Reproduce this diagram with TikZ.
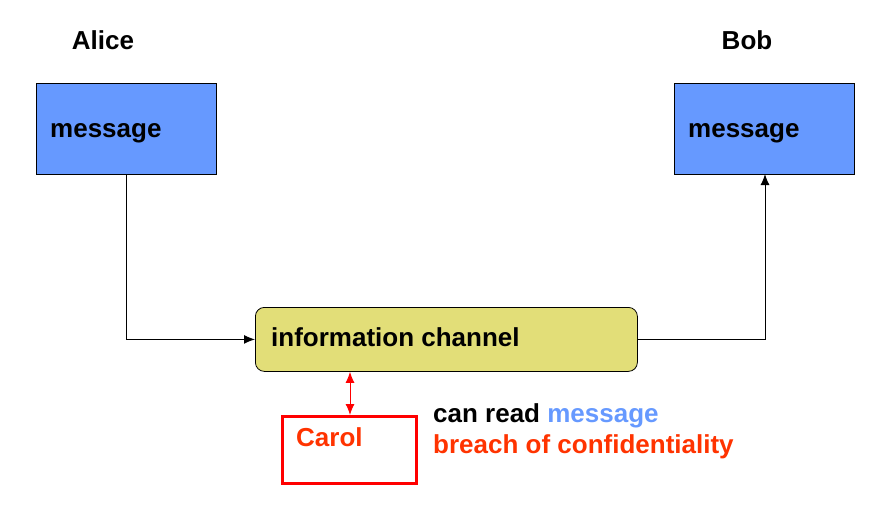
\documentclass[tikz,border=0pt]{standalone}
\usepackage{fontspec}
\setmainfont{Liberation Sans}
\usetikzlibrary{arrows.meta}
\definecolor{boxblue}{HTML}{6699FF}
\definecolor{chanyellow}{HTML}{E2DE78}
\definecolor{carolred}{HTML}{FF3300}
\begin{document}
\begin{tikzpicture}[x=1pt,y=-1pt,
  txt/.style={font=\fontsize{26}{30}\selectfont\bfseries, inner sep=0pt, anchor=base west},
  msgbox/.style={draw=black, line width=1pt, fill=boxblue, minimum width=180pt, minimum height=91pt,
    inner sep=0pt, anchor=north west},
  chanbox/.style={draw=black, line width=0.8pt, fill=chanyellow, rounded corners=9pt,
    minimum width=382pt, minimum height=64pt, inner sep=0pt, anchor=north west},
  carolbox/.style={draw=red, line width=3pt, minimum width=134pt, minimum height=67pt,
    anchor=north west, inner sep=0pt},
  conn/.style={draw=black, line width=1pt, -{Latex[length=11pt,width=9pt]}},
  redconn/.style={draw=red, line width=1pt, {Latex[length=11pt,width=9pt]}-{Latex[length=11pt,width=9pt]}}
]
\useasboundingbox (0,0) rectangle (889,504);
\node[txt, anchor=base] (alicelabel) at (103,49) {Alice};
\node[txt, anchor=base] (boblabel) at (747,49) {Bob};
\node[msgbox] (alice) at (36,83) {};
\node[msgbox] (bob) at (674,83) {};
\node[txt] (alicemsg) at (50,137) {message};
\node[txt] (bobmsg) at (688,137) {message};
\node[chanbox] (chan) at (255,307) {};
\node[txt] (chanlabel) at (271,346) {information channel};
\node[carolbox] (carol) at (281,415) {};
\node[txt, text=carolred] (carollabel) at (296,446) {Carol};
\node[txt] (canread) at (433,422) {can read \textcolor{boxblue}{message}};
\node[txt, text=carolred] (breach) at (433,453) {breach of confidentiality};
\coordinate (a1) at (126,174);
\coordinate (b1) at (765,174);
\draw[conn] (a1) |- (chan.west);
\draw[conn] (chan.east) -| (b1);
\draw[redconn] (chan.south -| 350,0) -- (carol.north -| 350,0);
\end{tikzpicture}
\end{document}
